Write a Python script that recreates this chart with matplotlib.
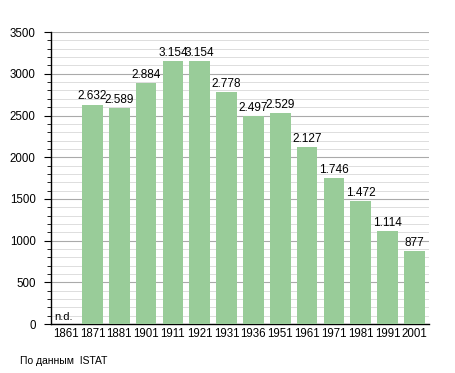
import matplotlib
matplotlib.use("Agg")
import matplotlib.pyplot as plt
from matplotlib.ticker import MultipleLocator

plt.rcParams["font.family"] = ["Liberation Sans", "DejaVu Sans"]

years = ["1861", "1871", "1881", "1901", "1911", "1921", "1931", "1936",
         "1951", "1961", "1971", "1981", "1991", "2001"]
population = [0, 2632, 2589, 2884, 3154, 3154, 2778, 2497, 2529, 2127,
              1746, 1472, 1114, 877]
labels = ["n.d.", "2.632", "2.589", "2.884", "3.154", "3.154", "2.778",
          "2.497", "2.529", "2.127", "1.746", "1.472", "1.114", "877"]

fig = plt.figure(figsize=(4.55, 3.73), dpi=100)
ax = fig.add_axes([0.112, 0.131, 0.831, 0.783])

x = list(range(len(years)))
ax.bar(x, population, width=0.77, color="#99cc99", zorder=3)

for xi, v, lab in zip(x, population, labels):
    if v == 0:
        ax.text(xi - 0.42, 20, lab, ha="left", va="bottom", fontsize=8, zorder=4)
    else:
        ax.text(xi, v + 25, lab, ha="center", va="bottom", fontsize=8.5, zorder=4)

ax.set_xlim(-0.55, len(years) - 0.45)
ax.set_ylim(0, 3500)
ax.set_xticks(x)
ax.set_xticklabels(years, fontsize=8.3)
ax.tick_params(axis="x", length=0, pad=3)
ax.yaxis.set_major_locator(MultipleLocator(500))
ax.yaxis.set_minor_locator(MultipleLocator(100))
ax.tick_params(axis="y", which="major", length=5, labelsize=8.3, pad=6)
ax.tick_params(axis="y", which="minor", length=3)
ax.grid(axis="y", which="major", color="#aaaaaa", linewidth=0.8, zorder=0)
ax.grid(axis="y", which="minor", color="#dddddd", linewidth=0.7, zorder=0)
for s in ["top", "right"]:
    ax.spines[s].set_visible(False)
ax.spines["left"].set_linewidth(1)
ax.spines["bottom"].set_linewidth(1)

fig.text(0.044, 0.018, "По данным  ISTAT", fontsize=7.5, ha="left", va="bottom")

fig.savefig("out.png", dpi=100)
